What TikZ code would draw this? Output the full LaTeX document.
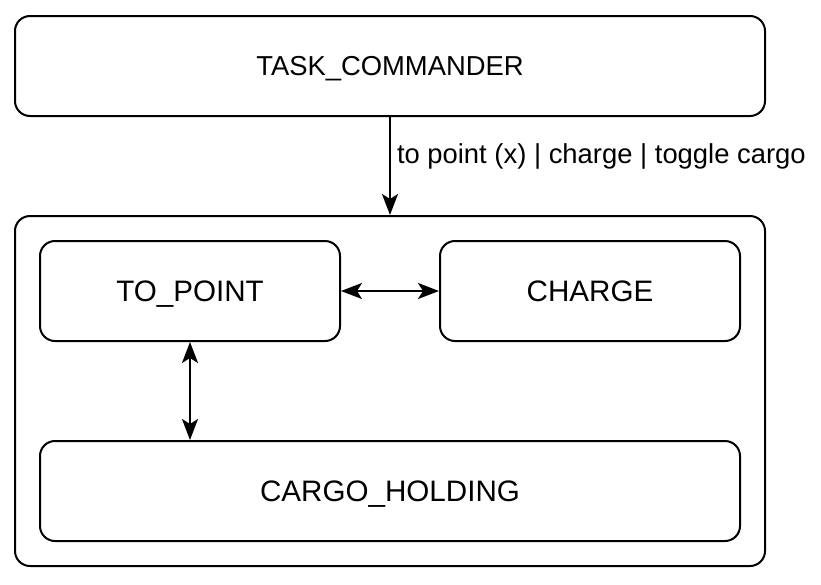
\documentclass[tikz,border=0pt]{standalone}
\usepackage{fontspec}
\setmainfont{Liberation Sans}
\usetikzlibrary{arrows.meta}
\begin{document}
\begin{tikzpicture}[x=1pt,y=-1pt,
  txt/.style={font=\fontsize{27.4}{32}\selectfont},
  bigtxt/.style={font=\fontsize{29.6}{35}\selectfont},
  box/.style={draw=black, line width=2pt, rounded corners=15pt, fill=white, inner sep=0pt, txt, text height=19.6pt, text depth=0pt},
  innerbox/.style={box, bigtxt, text height=21pt},
  conn/.style={line width=2pt, -{Stealth[length=21pt, width=16pt, inset=5pt]}},
  dconn/.style={line width=2pt, {Stealth[length=21pt, width=16pt, inset=5pt]}-{Stealth[length=21pt, width=16pt, inset=5pt]}}]
\useasboundingbox (0,0) rectangle (821,584);
\node[box, minimum width=750pt, minimum height=100pt] (cmd) at (390,66) {TASK\_COMMANDER};
\node[box, minimum width=750pt, minimum height=350pt] (cont) at (390,391) {};
\node[innerbox, minimum width=300pt, minimum height=100pt] (tp) at (190,291) {TO\_POINT};
\node[innerbox, minimum width=300pt, minimum height=100pt] (ch) at (590,291) {CHARGE};
\node[innerbox, minimum width=700pt, minimum height=100pt] (cargo) at (390,491) {CARGO\_HOLDING};
\draw[conn] (cmd.south) -- node[right, xshift=2pt, yshift=10pt, txt, inner sep=4pt] (lbl) {to point (x) | charge | toggle cargo} (cont.north);
\draw[dconn] (tp.east) -- (ch.west);
\draw[dconn] (tp.south) -- (tp.south |- cargo.north);
\end{tikzpicture}
\end{document}
